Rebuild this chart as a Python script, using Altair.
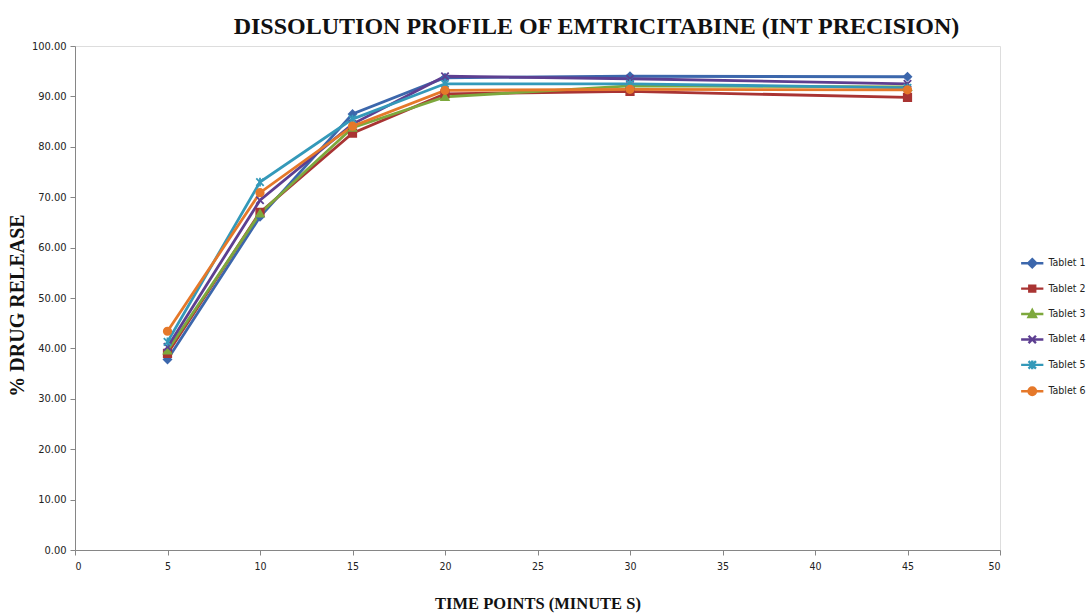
import altair as alt
import pandas as pd

times = [5, 10, 15, 20, 30, 45]
tablets = ["Tablet 1", "Tablet 2", "Tablet 3", "Tablet 4", "Tablet 5", "Tablet 6"]
t1 = [37.8, 66.1, 86.5, 93.7, 94.0, 93.9]
t2 = [39.0, 67.0, 82.7, 90.5, 91.0, 89.8]
t3 = [39.6, 66.8, 83.8, 89.9, 92.1, 91.9]
t4 = [40.3, 69.4, 84.5, 94.0, 93.5, 92.5]
t5 = [41.3, 73.0, 85.5, 92.5, 92.5, 91.7]
t6 = [43.4, 70.9, 84.1, 91.2, 91.4, 91.3]
series = [t1, t2, t3, t4, t5, t6]

colors = ["#3C67AC", "#A93433", "#7DA83C", "#5D3F91", "#3499B9", "#E5782A"]
X_PATH = "M-1,-1L1,1M-1,1L1,-1"
STAR_PATH = "M-1,-1L1,1M-1,1L1,-1M0,-1.2L0,1.2"
shapes = ["diamond", "square", "triangle-up", X_PATH, STAR_PATH, "circle"]

line_seg = "M-3,0L3,0"
legend_shapes = [
    line_seg + "M0,-1.1L1.1,0L0,1.1L-1.1,0Z",
    line_seg + "M-0.8,-0.8L0.8,-0.8L0.8,0.8L-0.8,0.8Z",
    line_seg + "M0,-1.1L1.0,0.8L-1.0,0.8Z",
    line_seg + "M-1,-1L1,1M-1,1L1,-1",
    line_seg + "M-1,-1L1,1M-1,1L1,-1M0,-1.2L0,1.2",
    line_seg + "M1,0A1,1,0,1,1,-1,0A1,1,0,1,1,1,0Z",
]

rows = []
for name, vals in zip(tablets, series):
    for t, v in zip(times, vals):
        rows.append({"time": t, "release": v, "tablet": name})
df = pd.DataFrame(rows)

LABEL_FONT = "Liberation Sans Narrow, DejaVu Sans Condensed, Liberation Sans"

x_enc = alt.X(
    "time:Q",
    scale=alt.Scale(domain=[0, 50], nice=False, zero=True),
    axis=alt.Axis(
        values=list(range(0, 51, 5)),
        format="d",
        title="TIME POINTS (MINUTE S)",
        grid=False,
        domainColor="#868686",
        tickColor="#868686",
        tickSize=5,
        labelFont=LABEL_FONT,
        labelFontSize=10.5,
        labelColor="#222222",
        labelPadding=6,
        titleFont="Liberation Serif",
        titleFontWeight="bold",
        titleFontSize=16.5,
        titleColor="#111111",
        titlePadding=24,
    ),
)
y_enc = alt.Y(
    "release:Q",
    scale=alt.Scale(domain=[0, 100], nice=False),
    axis=alt.Axis(
        values=list(range(0, 101, 10)),
        format=".2f",
        title="% DRUG RELEASE",
        grid=False,
        domainColor="#868686",
        tickColor="#868686",
        tickSize=5,
        labelFont=LABEL_FONT,
        labelFontSize=11,
        labelColor="#222222",
        labelPadding=4,
        titleFont="Liberation Serif",
        titleFontWeight="bold",
        titleFontSize=20,
        titleColor="#111111",
        titlePadding=4,
        titleY=259,
    ),
)

layers = []
for name, col in zip(tablets, colors):
    layers.append(
        alt.Chart(df)
        .transform_filter(alt.datum.tablet == name)
        .mark_line(strokeWidth=2.8, color=col)
        .encode(x=x_enc, y=y_enc)
    )
for name, col, shp in zip(tablets, colors, shapes):
    layers.append(
        alt.Chart(df)
        .transform_filter(alt.datum.tablet == name)
        .mark_point(filled=True, size=55, strokeWidth=1.8, opacity=1,
                    color=col, fill=col, stroke=col, shape=shp)
        .encode(x="time:Q", y="release:Q")
    )

leg = alt.Legend(
    title=None,
    orient="none",
    legendX=952,
    legendY=212,
    symbolSize=55,
    symbolStrokeWidth=2.4,
    labelFont=LABEL_FONT,
    labelFontSize=10.5,
    labelColor="#222222",
    labelOffset=11,
    rowPadding=7.4,
    padding=0,
)

legend_layer = alt.Chart(df).transform_filter("false").mark_point(
    filled=True, strokeWidth=2.4, opacity=1
).encode(
    x="time:Q",
    y="release:Q",
    color=alt.Color("tablet:N", scale=alt.Scale(domain=tablets, range=colors), legend=leg),
    stroke=alt.Stroke("tablet:N", scale=alt.Scale(domain=tablets, range=colors), legend=leg),
    shape=alt.Shape("tablet:N", scale=alt.Scale(domain=tablets, range=legend_shapes), legend=leg),
)
layers.append(legend_layer)

chart = (
    alt.layer(*layers)
    .properties(
        width=925,
        height=504,
        padding={"left": 75, "top": 46, "right": 91, "bottom": 64},
        autosize=alt.AutoSizeParams(type="none"),
        title=alt.TitleParams(
            "DISSOLUTION PROFILE OF EMTRICITABINE (INT PRECISION)",
            font="Liberation Serif",
            fontSize=24,
            fontWeight="bold",
            color="#111111",
            anchor="middle",
            dx=59,
            offset=1,
        ),
    )
    .configure_view(stroke=None)
    .configure(background="white")
)

chart.save("out.html", embed_options={"renderer": "svg", "actions": False})
